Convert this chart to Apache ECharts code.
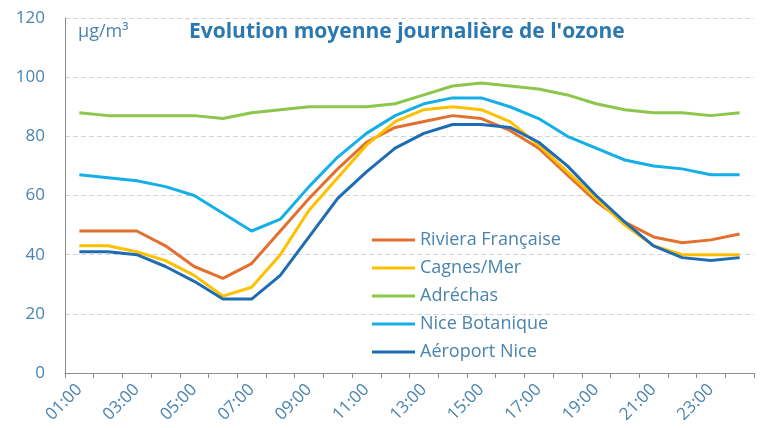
<!DOCTYPE html>
<html>
<head>
<meta charset="utf-8">
<script src="https://cdn.jsdelivr.net/npm/echarts@6/dist/echarts.min.js"></script>
<style>
  html, body { margin: 0; padding: 0; background: #fff; }
  #chart { width: 763px; height: 428px; }
</style>
</head>
<body>
<div id="chart"></div>
<script>
  var hours = ['01:00', '02:00', '03:00', '04:00', '05:00', '06:00', '07:00', '08:00',
    '09:00', '10:00', '11:00', '12:00', '13:00', '14:00', '15:00', '16:00',
    '17:00', '18:00', '19:00', '20:00', '21:00', '22:00', '23:00', '24:00'];

  var riviera = [48, 48, 48, 43, 36, 32, 37, 48, 59, 69, 78, 83, 85, 87, 86, 82, 76, 67, 58, 51, 46, 44, 45, 47];
  var cagnes = [43, 43, 41, 38, 33, 26, 29, 40, 55, 66, 77, 85, 89, 90, 89, 85, 77, 68, 59, 50, 43, 40, 40, 40];
  var adrechas = [88, 87, 87, 87, 87, 86, 88, 89, 90, 90, 90, 91, 94, 97, 98, 97, 96, 94, 91, 89, 88, 88, 87, 88];
  var niceBota = [67, 66, 65, 63, 60, 54, 48, 52, 63, 73, 81, 87, 91, 93, 93, 90, 86, 80, 76, 72, 70, 69, 67, 67];
  var aeroport = [41, 41, 40, 36, 31, 25, 25, 33, 46, 59, 68, 76, 81, 84, 84, 83, 78, 70, 60, 51, 43, 39, 38, 39];

  var yTicks = [0, 20, 40, 60, 80, 100, 120];

  var names = ['Riviera Française', 'Cagnes/Mer', 'Adréchas', 'Nice Botanique', 'Aéroport Nice'];
  var colors = ['#E2702E', '#FFC000', '#8CC64B', '#15AFE8', '#1E6DB4'];
  var values = [riviera, cagnes, adrechas, niceBota, aeroport];

  var textColor = '#4A84AE';

  var chart = echarts.init(document.getElementById('chart'));

  var series = [];
  for (var i = 0; i < names.length; i++) {
    series.push({
      name: names[i],
      type: 'line',
      data: values[i],
      showSymbol: false,
      symbol: 'none',
      lineStyle: { width: 3, color: colors[i] },
      itemStyle: { color: colors[i] }
    });
  }

  var option = {
    animation: false,
    backgroundColor: '#fff',
    title: [
      {
        text: 'Evolution moyenne journalière de l\'ozone',
        left: 184,
        top: 17,
        textStyle: {
          fontFamily: 'Open Sans',
          fontWeight: 'bold',
          fontSize: 21,
          color: '#2B78B0'
        }
      },
      {
        text: 'µg/m³',
        left: 73,
        top: 18,
        textStyle: {
          fontFamily: 'Open Sans',
          fontWeight: 'normal',
          fontSize: 18,
          color: textColor
        }
      }
    ],
    legend: {
      orient: 'vertical',
      left: 367,
      top: 226,
      itemWidth: 43,
      itemHeight: 3,
      itemGap: 10,
      icon: 'rect',
      data: names,
      textStyle: {
        fontFamily: 'Open Sans',
        fontSize: 18,
        color: textColor
      }
    },
    grid: {
      left: 65,
      right: 9,
      top: 18,
      bottom: 55,
      containLabel: false
    },
    xAxis: {
      type: 'category',
      data: hours,
      boundaryGap: true,
      axisLine: { lineStyle: { color: '#8C8C8C', width: 1 } },
      axisTick: { show: true, alignWithLabel: false, interval: 0, length: 5, lineStyle: { color: '#8C8C8C' } },
      axisLabel: {
        interval: 1,
        rotate: 45,
        fontFamily: 'Open Sans',
        fontSize: 17,
        color: textColor,
        margin: 14
      },
      splitLine: { show: false }
    },
    yAxis: {
      type: 'value',
      min: yTicks[0],
      max: yTicks[yTicks.length - 1],
      interval: 20,
      axisLine: { show: true, lineStyle: { color: '#8C8C8C', width: 1 } },
      axisTick: { show: false },
      axisLabel: {
        fontFamily: 'Open Sans',
        fontSize: 17,
        color: textColor,
        margin: 20
      },
      splitLine: { show: true, lineStyle: { color: '#D4D4D4', type: [5, 3], width: 1 } }
    },
    series: series
  };

  chart.setOption(option);
  window.addEventListener('resize', function () {
    chart.resize();
  });
</script>
</body>
</html>
